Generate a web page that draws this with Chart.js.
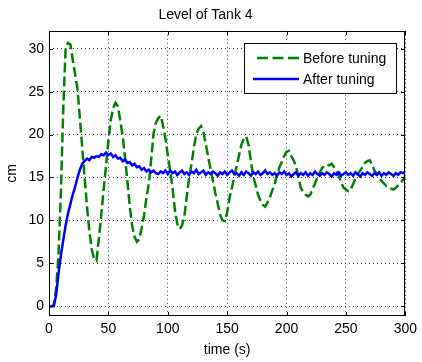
<!DOCTYPE html>
<html>
<head>
<meta charset="utf-8">
<title>Level of Tank 4</title>
<script src="https://cdn.jsdelivr.net/npm/chart.js@4/dist/chart.umd.min.js"></script>
<style>
  html, body { margin: 0; padding: 0; background: #fff; }
  canvas { display: block; }
</style>
</head>
<body>
<canvas id="tankChart" width="422" height="362"></canvas>
<script>
// time axis (s), one sample every 2 s
const timeSec = [
  0, 2, 4, 6, 8, 10, 12, 14, 16, 18,
  20, 22, 24, 26, 28, 30, 32, 34, 36, 38,
  40, 42, 44, 46, 48, 50, 52, 54, 56, 58,
  60, 62, 64, 66, 68, 70, 72, 74, 76, 78,
  80, 82, 84, 86, 88, 90, 92, 94, 96, 98,
  100, 102, 104, 106, 108, 110, 112, 114, 116, 118,
  120, 122, 124, 126, 128, 130, 132, 134, 136, 138,
  140, 142, 144, 146, 148, 150, 152, 154, 156, 158,
  160, 162, 164, 166, 168, 170, 172, 174, 176, 178,
  180, 182, 184, 186, 188, 190, 192, 194, 196, 198,
  200, 202, 204, 206, 208, 210, 212, 214, 216, 218,
  220, 222, 224, 226, 228, 230, 232, 234, 236, 238,
  240, 242, 244, 246, 248, 250, 252, 254, 256, 258,
  260, 262, 264, 266, 268, 270, 272, 274, 276, 278,
  280, 282, 284, 286, 288, 290, 292, 294, 296, 298,
  300
];

// level (cm) before tuning
const levelBefore = [
  0, 0, 0.1, 2.0, 6.0, 13.2, 23.0, 30.1, 30.7, 30.5,
  28.7, 27.0, 25.3, 21.9, 18.5, 15.0, 11.6, 8.7, 6.6, 5.5,
  5.3, 7.9, 10.6, 13.6, 16.3, 19.3, 21.7, 23.1, 23.7, 23.3,
  21.6, 19.9, 17.3, 14.6, 11.6, 9.4, 8.1, 7.5, 7.8, 9.1,
  10.6, 12.6, 14.2, 17.0, 20.1, 21.4, 21.9, 22.2, 21.1, 19.6,
  17.6, 15.8, 13.8, 11.2, 9.6, 9.0, 9.4, 10.5, 12.8, 15.0,
  16.6, 18.5, 20.1, 20.7, 21.0, 20.3, 18.9, 17.4, 16.0, 14.6,
  13.2, 12.0, 10.7, 10.0, 9.9, 10.9, 12.6, 13.8, 15.1, 16.3,
  17.6, 18.8, 19.5, 19.8, 18.8, 16.9, 15.1, 14.1, 13.0, 12.3,
  11.8, 11.6, 12.1, 12.7, 13.5, 14.2, 15.4, 16.2, 16.8, 17.5,
  18.0, 18.1, 17.5, 17.0, 16.3, 15.0, 13.8, 13.3, 13.0, 12.8,
  13.0, 13.7, 14.3, 15.0, 15.6, 16.1, 16.4, 16.5, 16.4, 16.6,
  16.2, 15.8, 15.2, 14.4, 13.8, 13.6, 13.4, 13.6, 14.2, 14.9,
  15.4, 15.8, 16.2, 16.7, 16.9, 17.0, 16.5, 15.8, 15.4, 15.0,
  14.6, 14.3, 14.0, 13.9, 13.7, 13.6, 13.8, 14.1, 14.4, 14.7,
  15.2
];

// level (cm) after tuning
const levelAfter = [
  0, 0, 0, 1.3, 3.8, 5.9, 7.7, 9.4, 10.8, 11.9,
  13.0, 13.9, 15.0, 15.9, 16.6, 16.9, 17.2, 17.0, 17.4, 17.3,
  17.5, 17.4, 17.7, 17.6, 17.9, 17.6, 17.8, 17.4, 17.6, 17.2,
  17.3, 16.9, 17.1, 16.7, 16.8, 16.4, 16.6, 16.2, 16.3, 15.9,
  16.1, 15.7, 15.9, 15.6, 15.8, 15.5, 15.4, 15.7, 15.5, 15.8,
  15.4, 15.8, 15.5, 15.7, 15.3, 15.6, 15.8, 15.4, 15.6, 15.3,
  15.7, 15.5, 15.9, 15.4, 15.6, 15.8, 15.3, 15.6, 15.4, 15.7,
  15.5, 15.2, 15.6, 15.4, 15.7, 15.3, 15.6, 15.8, 15.4, 15.5,
  15.2, 15.6, 15.3, 15.7, 15.5, 15.2, 15.6, 15.4, 15.7, 15.3,
  15.5, 15.8, 15.4, 15.6, 15.3, 15.5, 15.2, 15.6, 15.4, 15.7,
  15.3, 15.5, 15.1, 15.4, 15.6, 15.2, 15.5, 15.3, 15.6, 15.2,
  15.5, 15.3, 15.7, 15.4, 15.2, 15.5, 15.3, 15.6, 15.4, 15.1,
  15.5, 15.3, 15.6, 15.2, 15.4, 15.6, 15.3, 15.5, 15.2, 15.6,
  15.4, 15.1, 15.5, 15.3, 15.6, 15.4, 15.2, 15.5, 15.3, 15.6,
  15.2, 15.5, 15.3, 15.6, 15.4, 15.2, 15.5, 15.3, 15.6, 15.5,
  15.7
];

const xTicks = [0, 50, 100, 150, 200, 250, 300];
const yTicks = [0, 5, 10, 15, 20, 25, 30];

const FONT = 'Liberation Sans, Arial, Helvetica, sans-serif';

// MATLAB style box with inner ticks, and the boxed legend in the top right
const frameAndLegend = {
  id: 'frameAndLegend',
  afterDatasetsDraw(chart) {
    const ctx = chart.ctx;
    const a = chart.chartArea;
    const x = chart.scales.x, y = chart.scales.y;
    const L = Math.round(a.left), R = Math.round(a.right);
    const T = Math.round(a.top), B = Math.round(a.bottom);
    ctx.save();
    ctx.strokeStyle = '#000';
    ctx.lineWidth = 1;
    ctx.setLineDash([]);
    ctx.strokeRect(L + 0.5, T + 0.5, R - L - 1, B - T - 1);

    ctx.beginPath();
    xTicks.forEach(v => {
      const px = Math.round(x.getPixelForValue(v)) + 0.5;
      ctx.moveTo(px, B); ctx.lineTo(px, B - 4);
      ctx.moveTo(px, T); ctx.lineTo(px, T + 4);
    });
    yTicks.forEach(v => {
      const py = Math.round(y.getPixelForValue(v)) + 0.5;
      ctx.moveTo(L, py); ctx.lineTo(L + 4, py);
      ctx.moveTo(R, py); ctx.lineTo(R - 4, py);
    });
    ctx.stroke();

    // legend
    const bx = R - 161, by = T + 12, bw = 152, bh = 50;
    ctx.fillStyle = '#fff';
    ctx.fillRect(bx, by, bw, bh);
    ctx.strokeRect(bx + 0.5, by + 0.5, bw, bh);
    ctx.font = '14px ' + FONT;
    ctx.textBaseline = 'middle';
    ctx.textAlign = 'left';
    const rows = [
      {ds: chart.data.datasets[0], x0: bx + 13, yy: by + 15},
      {ds: chart.data.datasets[1], x0: bx + 9, yy: by + 36}
    ];
    rows.forEach(r => {
      ctx.strokeStyle = r.ds.borderColor;
      ctx.lineWidth = 2.5;
      ctx.setLineDash(r.ds.borderDash ? [11, 4.5] : []);
      ctx.beginPath();
      ctx.moveTo(r.x0, r.yy);
      ctx.lineTo(bx + 55, r.yy);
      ctx.stroke();
      ctx.fillStyle = '#000';
      ctx.fillText(r.ds.label, bx + 59, r.yy + 1);
    });
    ctx.restore();
  }
};

const ctxTank = document.getElementById('tankChart').getContext('2d');
const tankChart = new Chart(ctxTank, {
  type: 'line',
  data: {
    datasets: [{
      label: 'Before tuning',
      data: timeSec.map((t, i) => ({x: t, y: levelBefore[i]})),
      borderColor: '#008000',
      borderWidth: 2.5,
      borderDash: [10, 4],
      pointRadius: 0,
      tension: 0,
      fill: false,
      order: 1
    }, {
      label: 'After tuning',
      data: timeSec.map((t, i) => ({x: t, y: levelAfter[i]})),
      borderColor: '#0000ff',
      borderWidth: 2.5,
      pointRadius: 0,
      tension: 0,
      fill: false,
      order: 0
    }]
  },
  options: {
    responsive: false,
    animation: false,
    layout: { padding: { left: 0, right: 11, top: 0, bottom: 0 } },
    plugins: {
      legend: { display: false },
      tooltip: { enabled: false },
      title: {
        display: true,
        text: 'Level of Tank 4',
        color: '#000',
        font: { family: FONT, size: 14, weight: 'normal' },
        padding: { top: 7, bottom: 7 }
      }
    },
    scales: {
      x: {
        type: 'linear',
        min: 0,
        max: 300,
        afterBuildTicks: s => { s.ticks = xTicks.map(v => ({value: v})); },
        afterFit: s => { s.height = 46; },
        grid: { color: '#444', lineWidth: 1, drawTicks: false },
        border: { display: false, dash: [1, 3] },
        ticks: { color: '#000', font: { family: FONT, size: 14 }, padding: 5, maxRotation: 0 },
        title: { display: true, text: 'time (s)', color: '#000', font: { family: FONT, size: 14 }, padding: { top: 0, bottom: 3.6 } }
      },
      y: {
        type: 'linear',
        min: -1.15,
        max: 32.1,
        afterBuildTicks: s => { s.ticks = yTicks.map(v => ({value: v})); },
        afterFit: s => { s.width = 49; },
        grid: { color: '#444', lineWidth: 1, drawTicks: false },
        border: { display: false, dash: [1, 3] },
        ticks: { color: '#000', font: { family: FONT, size: 14 }, padding: 5 },
        title: { display: true, text: 'cm', color: '#000', font: { family: FONT, size: 14 }, padding: { top: 4, bottom: 0 } }
      }
    }
  },
  plugins: [frameAndLegend]
});
</script>
</body>
</html>
